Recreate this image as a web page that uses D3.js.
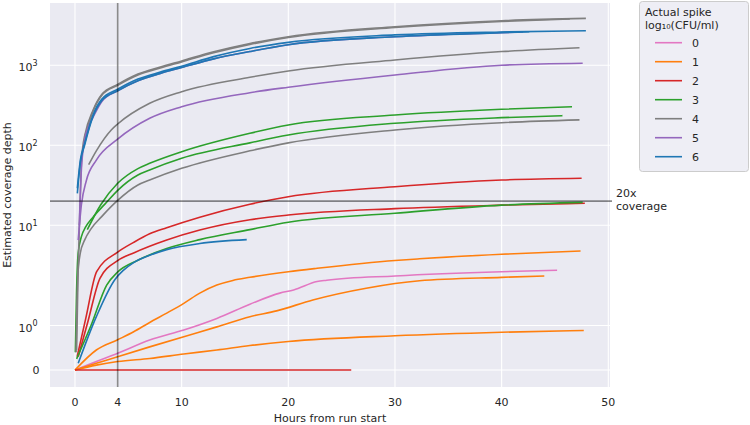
<!DOCTYPE html>
<html><head><meta charset="utf-8">
<script src="https://cdn.jsdelivr.net/npm/d3@7"></script>
<style>body{margin:0;background:#fff}text{font-family:"DejaVu Sans",sans-serif;fill:#262626}</style>
</head><body><svg id="c" width="750" height="425"></svg>
<script>
const spikeLevels = [0,1,2,3,4,5,6];
const spikeColors = ["#e377c2","#ff7f0e","#d62728","#2ca02c","#7f7f7f","#9467bd","#1f77b4"];
const xTicks = [0,4,10,20,30,40,50];
const yTicks = [0,1,10,100,1000];
const yTickExp = ["","0","1","2","3"];
const coverageThreshold = 20;
const cutoffHour = 4;

// [hours from run start, estimated coverage depth]
const pink0a = [[0,0],[2,0.19],[4,0.375],[7,0.675],[10.2,0.9],[13.3,1.16],[16.4,1.48],[19.2,1.73],[20.5,1.8],[22.7,1.99],[23.6,2.05],[30,2.32],[40,2.62],[45.2,2.73]];
const orange1a = [[0,0],[2,0.45],[4,0.68],[5.5,0.86],[7,1.07],[8.6,1.28],[10.2,1.5],[11.7,1.73],[13.3,1.91],[14.8,2.04],[16.4,2.23],[20,2.62],[22.7,2.89],[30,3.62],[32.3,3.8],[40,4.33],[47.4,4.76]];
const orange1b = [[0,0],[2,0.15],[4,0.3],[7,0.52],[10.2,0.75],[13.3,0.97],[16.4,1.2],[18.9,1.33],[22.3,1.575],[27.3,1.84],[32.3,2.02],[40,2.23],[44,2.32]];
const orange1c = [[0,0],[2,0.11],[4,0.19],[7,0.26],[10.2,0.36],[13.3,0.45],[16.4,0.55],[20,0.64],[30,0.77],[40,0.85],[47.7,0.89]];
const red2a = [[0.2,0.3],[1,1.15],[2.03,2.62],[4,4.6],[5.5,6.1],[7,7.8],[8.6,9.3],[11.7,12.6],[16.4,18.3],[20,22.7],[30,30.3],[40,36.7],[47.5,38.6]];
const red2b = [[0.3,0.3],[1.2,1.08],[2.34,2.17],[4,3.6],[5.5,4.5],[8.6,6.53],[11.7,8.7],[16.4,11.7],[20,13.4],[30,16.1],[40,17.8],[47.8,18.8]];
const red2c = [[0,0],[25.9,0]];
const green3a = [[1.15,8.8],[2.4,17.9],[4,33.4],[5.9,51],[7,59.4],[10,83],[16.4,141],[20,179],[30,238],[40,281],[46.6,302]];
const green3b = [[0.03,0.4],[0.15,1.8],[0.3,4.5],[0.6,7.2],[1.0,9.5],[1.69,12.6],[2.78,18.2],[4.03,27.5],[5.9,42.4],[7,49],[10,68.6],[16.4,107],[20,134],[30,188],[40,221],[45.7,234]];
const green3c = [[0.15,0.25],[1.5,1.0],[2.97,1.91],[4,2.6],[5.8,3.6],[8.6,5.1],[11.7,6.6],[16.4,8.8],[20,10.9],[30,14.1],[40,17.8],[47.6,19.3]];
const gray4a = [[0.15,0.45],[0.3,3],[0.44,13],[0.6,60],[0.75,100],[0.9,130],[1.7,275],[2.5,430],[4,575],[5.9,775],[8,950],[10,1130],[13,1470],[16.4,1870],[20,2270],[30,3030],[40,3600],[47.9,3850]];
const gray4b = [[0.9,126],[1.7,268],[2.5,418],[4,560],[5.9,755],[8,925],[10,1100],[13,1430],[16.4,1820],[20,2220],[30,2960],[40,3520],[46.4,3780]];
const gray4c = [[1.28,57],[2,85],[3.4,155],[4,184],[7,334],[10,467],[16.4,706],[20,846],[30,1160],[40,1480],[47.3,1650]];
const gray4d = [[0.1,0.4],[0.25,2.2],[0.5,4.5],[0.9,6.5],[1.5,9],[2.5,12.8],[4,20.4],[5.9,31.8],[7,36.7],[10,51.4],[16.4,85],[20,107],[30,155],[40,191],[47.3,207]];
const purple5a = [[0.4,10],[0.6,50],[0.9,115],[1.3,175],[1.7,225],[2.5,350],[4,480],[5.9,640],[8,790],[10,935],[13,1200],[16.4,1480],[20,1800],[30,2270],[40,2550],[42,2600]];
const purple5b = [[0.3,6.5],[0.6,18],[1.06,36],[2,65],[4,119],[7,217],[10,303],[16.4,453],[20,530],[30,754],[40,1000],[47.6,1057]];
const blue6a = [[0.22,29],[0.5,65],[0.9,105],[1.7,240],[2.5,375],[4,500],[5.9,670],[8,820],[10,970],[13,1280],[16.4,1620],[20,1930],[30,2390],[40,2600],[47.9,2690]];
const blue6b = [[0.22,25],[0.5,60],[0.9,100],[1.7,230],[2.5,360],[4,480],[5.9,640],[8,790],[10,935],[13,1200],[16.4,1480],[20,1800],[30,2270],[40,2550],[42.6,2620]];
const blue6c = [[0.3,0.15],[2,1.2],[3.75,2.1],[4.5,2.7],[5.5,3.4],[7,4.2],[8.6,4.95],[11.7,5.9],[16.1,6.6]];

const runs = [
  {spike:0, pts:pink0a},
  {spike:1, pts:orange1a},{spike:1, pts:orange1b},{spike:1, pts:orange1c},
  {spike:2, pts:red2a},{spike:2, pts:red2b},{spike:2, pts:red2c},
  {spike:3, pts:green3a},{spike:3, pts:green3b},{spike:3, pts:green3c},
  {spike:4, pts:gray4a},{spike:4, pts:gray4b},{spike:4, pts:gray4c},{spike:4, pts:gray4d},
  {spike:5, pts:purple5a},{spike:5, pts:purple5b},
  {spike:6, pts:blue6a},{spike:6, pts:blue6b},{spike:6, pts:blue6c}
];

const svg = d3.select("#c");
const P = {left:50, right:610, top:3, bottom:387};
const x = d3.scaleLinear().domain([-2.344, 50.16]).range([P.left, P.right]);
// matplotlib-style symlog (linthresh=2, linscale=1, base 10)
function symlog(v){ const c=2, ls=1/(1-1/10), a=Math.abs(v); return a<=c ? v*ls : Math.sign(v)*c*(ls+Math.log10(a/c)); }
const yT = d3.scaleLinear().domain([-0.425, 9.175]).range([P.bottom, P.top]);
const y = v => yT(symlog(v));
const color = d3.scaleOrdinal().domain(spikeLevels).range(spikeColors);

svg.append("rect").attr("x",P.left).attr("y",P.top).attr("width",P.right-P.left).attr("height",P.bottom-P.top).attr("fill","#EAEAF2");
const g = svg.append("g");
g.selectAll(".hg").data(yTicks).join("line").attr("x1",P.left).attr("x2",P.right).attr("y1",d=>y(d)).attr("y2",d=>y(d)).attr("stroke","#fff").attr("stroke-width",1.1);
g.selectAll(".vg").data(xTicks).join("line").attr("y1",P.top).attr("y2",P.bottom).attr("x1",d=>x(d)).attr("x2",d=>x(d)).attr("stroke","#fff").attr("stroke-width",1.1);

// tick labels
svg.selectAll(".xt").data(xTicks).join("text").attr("x",d=>x(d)).attr("y",406).attr("text-anchor","middle").attr("font-size",11).text(d=>d);
yTicks.forEach((v,i)=>{
  const t = svg.append("text").attr("text-anchor","end").attr("font-size",11);
  if(yTickExp[i]===""){ t.attr("x",39.5).attr("y",y(v)+4).text("0"); }
  else { t.attr("x",37.5).attr("y",y(v)+6);
    t.append("tspan").text("10");
    t.append("tspan").attr("dy",-5.5).attr("font-size",8).text(yTickExp[i]); }
});
svg.append("text").attr("x",330).attr("y",422).attr("text-anchor","middle").attr("font-size",11).text("Hours from run start");
svg.append("text").attr("transform","translate(11,195) rotate(-90)").attr("text-anchor","middle").attr("font-size",11).text("Estimated coverage depth");

// lines
const line = d3.line().x(d=>x(d[0])).y(d=>y(d[1])).curve(d3.curveMonotoneX);
const lg = svg.append("g");
lg.selectAll("path").data(runs).join("path").attr("d",d=>line(d.pts)).attr("fill","none").attr("stroke",d=>color(d.spike)).attr("stroke-width",1.6).attr("stroke-linejoin","round");

// reference lines
svg.append("line").attr("x1",x(cutoffHour)).attr("x2",x(cutoffHour)).attr("y1",P.top).attr("y2",P.bottom).attr("stroke","#000").attr("stroke-opacity",0.45).attr("stroke-width",1.6);
svg.append("line").attr("x1",P.left).attr("x2",612).attr("y1",y(coverageThreshold)).attr("y2",y(coverageThreshold)).attr("stroke","#000").attr("stroke-opacity",0.45).attr("stroke-width",1.6);
const ct = svg.append("text").attr("font-size",11);
ct.append("tspan").attr("x",616).attr("y",197).text("20x");
ct.append("tspan").attr("x",616).attr("y",210).text("coverage");

// legend
const L = svg.append("g");
L.append("rect").attr("x",639.5).attr("y",1.5).attr("width",109).attr("height",170).attr("rx",3).attr("fill","#EAEAF2").attr("fill-opacity",0.8).attr("stroke","#cccccc").attr("stroke-width",1);
L.append("text").attr("x",645).attr("y",16).attr("font-size",11).text("Actual spike");
L.append("text").attr("x",645).attr("y",29).attr("font-size",11).text("log₁₀(CFU/ml)");
const ent = L.selectAll(".e").data(spikeLevels).join("g").attr("transform",(d,i)=>`translate(0,${42.7+19*i})`);
ent.append("line").attr("x1",655).attr("x2",682).attr("stroke",d=>color(d)).attr("stroke-width",1.6);
ent.append("text").attr("x",692).attr("y",4).attr("font-size",11).text(d=>d);
</script></body></html>
